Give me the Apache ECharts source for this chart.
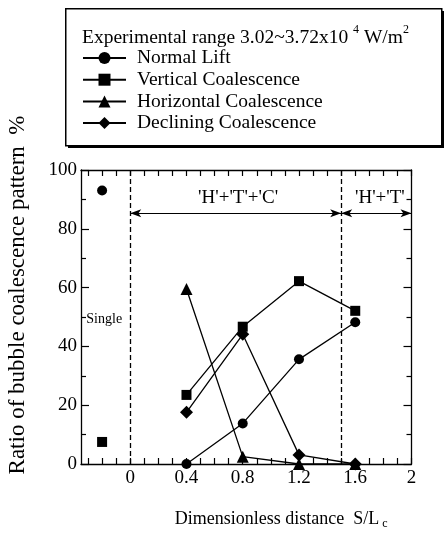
<!DOCTYPE html>
<html>
<head>
<meta charset="utf-8">
<script src="https://cdn.jsdelivr.net/npm/echarts@6/dist/echarts.min.js"></script>
<style>
html,body{margin:0;padding:0;background:#fff;}
#chart{width:445px;height:536px;}
</style>
</head>
<body>
<div id="chart"></div>
<script>
// ---- data ----
var seriesNames = ['Normal Lift', 'Vertical Coalescence', 'Horizontal Coalescence', 'Declining Coalescence'];
var xValues = [0.4, 0.8, 1.2, 1.6];
var normalLift = [0, 13.8, 35.6, 48.2];
var verticalCoalescence = [23.5, 46.7, 62.2, 52.1];
var horizontalCoalescence = [59.5, 2.5, 0, 0];
var decliningCoalescence = [17.6, 44.1, 3.1, 0];
var singleX = -0.2;
var singleNormalLift = 93;
var singleVertical = 7.5;
var xTickLabels = [0, 0.4, 0.8, 1.2, 1.6, 2];
var xMinorTicks = [-0.3, -0.2, -0.1, 0, 0.1, 0.2, 0.3, 0.4, 0.5, 0.6, 0.7, 0.8, 0.9, 1.0, 1.1, 1.2, 1.3, 1.4, 1.5, 1.6, 1.7, 1.8, 1.9, 2.0];
var regionBounds = [0, 1.5, 2];
var regionLabels = ["'H'+'T'+'C'", "'H'+'T'"];
var singleLabel = 'Single';
var headerText = '{n|Experimental range 3.02~3.72x10 }{sup|4}{n| W/m}{sup|2}';

var FONT = '"Liberation Serif", "Times New Roman", serif';

function pairs(xs, ys) { return xs.map(function (x, i) { return [x, ys[i]]; }); }

var symbols = ['circle', 'rect', 'triangle', 'diamond'];
var sizes = [10, 10, 12, 13];
var values = [normalLift, verticalCoalescence, horizontalCoalescence, decliningCoalescence];

var series = values.map(function (v, i) {
  return {
    name: seriesNames[i],
    type: 'line',
    data: pairs(xValues, v),
    symbol: symbols[i],
    symbolSize: sizes[i],
    showAllSymbol: true,
    clip: false,
    itemStyle: { color: '#000', opacity: 1 },
    lineStyle: { color: '#000', width: 1.3 },
    z: 3
  };
});

series.push({
  name: seriesNames[0], type: 'scatter', symbol: 'circle', symbolSize: 10,
  data: [[singleX, singleNormalLift]], itemStyle: { color: '#000', opacity: 1 }, z: 3
});
series.push({
  name: seriesNames[1], type: 'scatter', symbol: 'rect', symbolSize: 10,
  data: [[singleX, singleVertical]], itemStyle: { color: '#000', opacity: 1 }, z: 3
});

// annotations: dashed region borders, arrows and region labels
var arrowY = 85.3;
series.push({
  name: 'annotations', type: 'line', data: [], silent: true,
  markLine: {
    silent: true, animation: false,
    symbol: ['none', 'none'],
    label: { show: false },
    lineStyle: { color: '#000', type: [5, 3], width: 1.3 },
    data: [{ xAxis: regionBounds[0] }, { xAxis: regionBounds[1] }]
  }
});
series.push({
  name: 'arrows', type: 'line', data: [], silent: true,
  markLine: {
    silent: true, animation: false,
    symbol: ['arrow', 'arrow'], symbolSize: [6, 11],
    label: { show: false },
    lineStyle: { color: '#000', type: 'solid', width: 1.2 },
    data: [
      [{ coord: [regionBounds[0], arrowY] }, { coord: [regionBounds[1], arrowY] }],
      [{ coord: [regionBounds[1], arrowY] }, { coord: [regionBounds[2], arrowY] }]
    ]
  },
  markPoint: {
    silent: true, animation: false, symbol: 'circle', symbolSize: 1,
    itemStyle: { color: 'rgba(0,0,0,0)' },
    label: { show: true, color: '#000', fontFamily: FONT, fontSize: 19, position: 'inside' },
    data: [
      { name: 'r1', coord: [0.767, 90.5], label: { formatter: regionLabels[0] } },
      { name: 'r2', coord: [1.775, 90.5], label: { formatter: regionLabels[1] } },
      { name: 's', coord: [-0.185, 49.3], label: { formatter: singleLabel, fontSize: 14 } }
    ]
  }
});

var axisLineStyle = { onZero: false, lineStyle: { color: '#000', width: 1.3 } };

var option = {
  animation: false,
  backgroundColor: '#fff',
  grid: { left: 81, right: 33.5, top: 170, bottom: 72, containLabel: false, outerBoundsMode: 'none' },
  xAxis: [{
    type: 'value', min: -0.35, max: 2,
    axisLine: axisLineStyle,
    axisTick: { inside: true, length: 6, customValues: xMinorTicks, lineStyle: { color: '#000', width: 1.2 } },
    axisLabel: { customValues: xTickLabels, color: '#000', fontFamily: FONT, fontSize: 19, margin: 5 },
    splitLine: { show: false },
    name: 'Dimensionless distance  S/L{sub|c}',
    nameLocation: 'middle', nameGap: 44,
    nameTextStyle: {
      color: '#000', fontFamily: FONT, fontSize: 18, padding: [0, 0, 0, 70],
      rich: { sub: { fontFamily: FONT, fontSize: 12, padding: [10, 0, 0, 3], color: '#000' } }
    }
  }, {
    type: 'value', min: -0.35, max: 2, position: 'top',
    axisLine: axisLineStyle,
    axisTick: { inside: true, length: 6, customValues: xMinorTicks, lineStyle: { color: '#000', width: 1.2 } },
    axisLabel: { show: false },
    splitLine: { show: false }
  }],
  yAxis: [{
    type: 'value', min: 0, max: 100, interval: 20,
    axisLine: axisLineStyle,
    axisTick: { inside: true, length: 8, lineStyle: { color: '#000', width: 1.2 } },
    minorTick: { show: true, splitNumber: 2, length: 5, lineStyle: { color: '#000', width: 1.2 } },
    axisLabel: { color: '#000', fontFamily: FONT, fontSize: 19, margin: 4 },
    splitLine: { show: false },
    minorSplitLine: { show: false },
    name: 'Ratio of bubble coalescence pattern  %',
    nameLocation: 'middle', nameRotate: 90, nameGap: 52,
    nameTextStyle: { color: '#000', fontFamily: FONT, fontSize: 23, padding: [0, 0, 0, 44] }
  }, {
    type: 'value', min: 0, max: 100, interval: 20, position: 'right',
    axisLine: axisLineStyle,
    axisTick: { inside: true, length: 8, lineStyle: { color: '#000', width: 1.2 } },
    minorTick: { show: true, splitNumber: 2, length: 5, lineStyle: { color: '#000', width: 1.2 } },
    axisLabel: { show: false },
    splitLine: { show: false }
  }],
  legend: {
    data: seriesNames,
    orient: 'vertical',
    left: 82, top: 48, padding: 0,
    itemWidth: 43, itemHeight: 15, itemGap: 1.7,
    selectedMode: false,
    textStyle: { color: '#000', fontFamily: FONT, fontSize: 19.5, lineHeight: 19, padding: [0, 0, 0, 6] },
    z: 10
  },
  graphic: [
    { type: 'rect', left: 68, top: 11, shape: { width: 376, height: 137 }, style: { fill: '#000' }, z: 1 },
    { type: 'rect', left: 65, top: 8, shape: { width: 376, height: 137 }, style: { fill: '#fff', stroke: '#000', lineWidth: 1.5 }, z: 2 },
    {
      type: 'text', left: 82, top: 24, z: 3,
      style: {
        text: headerText, fill: '#000',
        rich: {
          n: { fontFamily: FONT, fontSize: 19.5, lineHeight: 24, verticalAlign: 'bottom', fill: '#000' },
          sup: { fontFamily: FONT, fontSize: 12, lineHeight: 14, verticalAlign: 'top', fill: '#000' }
        }
      }
    }
  ],
  series: series
};

var chart = echarts.init(document.getElementById('chart'), null, { renderer: 'canvas' });
chart.setOption(option);
</script>
</body>
</html>
